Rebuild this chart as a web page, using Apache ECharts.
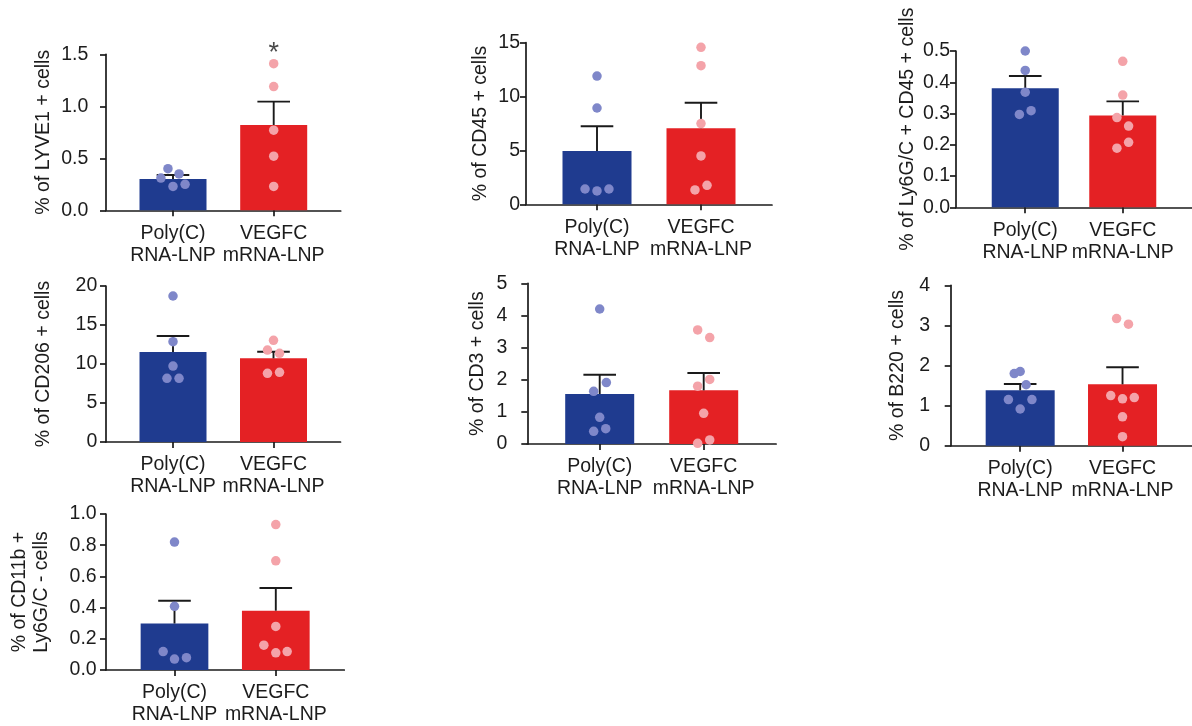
<!DOCTYPE html>
<html>
<head>
<meta charset="utf-8">
<script src="https://cdn.jsdelivr.net/npm/echarts@6/dist/echarts.min.js"></script>
<style>
  html, body { margin: 0; padding: 0; background: #fff; }
  #chart { width: 1192px; height: 726px; }
</style>
</head>
<body>
<div id="chart"></div>
<script>
// ---------------- DATA ----------------
const categories = ['Poly(C)\nRNA-LNP', 'VEGFC\nmRNA-LNP'];

// LYVE1
const lyve1Title = '% of LYVE1 + cells';
const lyve1Ticks = [0, 0.5, 1.0, 1.5];
const lyve1Mean = [0.30, 0.82];
const lyve1Sem = [0.04, 0.225];
const lyve1Poly = [0.31, 0.40, 0.35, 0.23, 0.25];
const lyve1PolyJit = [-0.12, -0.05, 0.06, 0, 0.12];
const lyve1Vegfc = [1.41, 1.19, 0.77, 0.52, 0.23];
const lyve1VegfcJit = [0, 0, 0, 0, 0];
const lyve1Sig = ['', '*'];

// CD45
const cd45Title = '% of CD45 + cells';
const cd45Ticks = [0, 5, 10, 15];
const cd45Mean = [4.95, 7.05];
const cd45Sem = [2.29, 2.38];
const cd45Poly = [11.9, 8.94, 1.42, 1.24, 1.42];
const cd45PolyJit = [0, 0, -0.115, 0, 0.115];
const cd45Vegfc = [14.57, 12.87, 7.49, 4.49, 1.76, 1.33];
const cd45VegfcJit = [0, 0, 0, 0, 0.058, -0.058];

// Ly6G/C + CD45
const ly6gTitle = '% of Ly6G/C + CD45 + cells';
const ly6gTicks = [0, 0.1, 0.2, 0.3, 0.4, 0.5];
const ly6gMean = [0.381, 0.294];
const ly6gSem = [0.039, 0.045];
const ly6gPoly = [0.50, 0.438, 0.368, 0.297, 0.309];
const ly6gPolyJit = [0, 0, 0, -0.06, 0.06];
const ly6gVegfc = [0.467, 0.359, 0.287, 0.26, 0.208, 0.189];
const ly6gVegfcJit = [0, 0, -0.06, 0.06, 0.06, -0.06];

// CD206
const cd206Title = '% of CD206 + cells';
const cd206Ticks = [0, 5, 10, 15, 20];
const cd206Mean = [11.54, 10.73];
const cd206Sem = [2.05, 0.85];
const cd206Poly = [18.72, 12.86, 9.74, 8.16, 8.16];
const cd206PolyJit = [0, 0, 0, -0.06, 0.06];
const cd206Vegfc = [13.03, 11.79, 11.37, 8.8, 8.93];
const cd206VegfcJit = [0, -0.06, 0.06, -0.06, 0.06];

// CD3
const cd3Title = '% of CD3 + cells';
const cd3Ticks = [0, 1, 2, 3, 4, 5];
const cd3Mean = [1.556, 1.67];
const cd3Sem = [0.60, 0.54];
const cd3Poly = [4.20, 1.91, 1.64, 0.83, 0.395, 0.477];
const cd3PolyJit = [0, 0.064, -0.058, 0, -0.058, 0.058];
const cd3Vegfc = [3.55, 3.31, 2.01, 1.80, 0.955, 0.125, 0.02];
const cd3VegfcJit = [-0.058, 0.058, 0.058, -0.058, 0, 0.058, -0.058];

// B220
const b220Title = '% of B220 + cells';
const b220Ticks = [0, 1, 2, 3, 4];
const b220Mean = [1.38, 1.53];
const b220Sem = [0.16, 0.425];
const b220Poly = [1.80, 1.85, 1.52, 1.15, 1.15, 0.915];
const b220PolyJit = [-0.058, 0, 0.058, -0.115, 0.115, 0];
const b220Vegfc = [3.17, 3.03, 1.25, 1.17, 1.20, 0.72, 0.225];
const b220VegfcJit = [-0.058, 0.058, -0.115, 0, 0.115, 0, 0];

// CD11b + Ly6G/C -
const cd11bTitle = '% of CD11b +\nLy6G/C - cells';
const cd11bTicks = [0, 0.2, 0.4, 0.6, 0.8, 1.0];
const cd11bMean = [0.298, 0.38];
const cd11bSem = [0.146, 0.146];
const cd11bPoly = [0.82, 0.408, 0.118, 0.07, 0.079];
const cd11bPolyJit = [0, 0, -0.112, 0, 0.118];
const cd11bVegfc = [0.932, 0.70, 0.279, 0.159, 0.11, 0.118];
const cd11bVegfcJit = [0, 0, 0, -0.118, 0, 0.112];

// ---------------- LAYOUT / STYLE ----------------
const FONT = '"Liberation Sans", Arial, Helvetica, sans-serif';
const TXT = '#1c1c1c';
const AXC = '#1a1a1a';
const barColors = ['#1f3b8f', '#e42124'];
const dotColors = ['#7f87c9', '#f4a3a9'];

const panels = [
  { title: lyve1Title, ticks: lyve1Ticks, mean: lyve1Mean, sem: lyve1Sem, poly: lyve1Poly, polyJit: lyve1PolyJit, vegfc: lyve1Vegfc, vegfcJit: lyve1VegfcJit, sig: lyve1Sig, dec: 1,
    lay: { left: 106, top: 54.3, height: 156, pad: 67, spacing: 100.7, barW: 67, labelMargin: 17.7, nameGap: 51 } },
  { title: cd45Title, ticks: cd45Ticks, mean: cd45Mean, sem: cd45Sem, poly: cd45Poly, polyJit: cd45PolyJit, vegfc: cd45Vegfc, vegfcJit: cd45VegfcJit, dec: 0,
    lay: { left: 526, top: 42.7, height: 161.6, pad: 71, spacing: 104, barW: 69, labelMargin: 6, nameGap: 34 } },
  { title: ly6gTitle, ticks: ly6gTicks, mean: ly6gMean, sem: ly6gSem, poly: ly6gPoly, polyJit: ly6gPolyJit, vegfc: ly6gVegfc, vegfcJit: ly6gVegfcJit, dec: 1,
    lay: { left: 956, top: 51, height: 156.3, pad: 71, spacing: 100, barW: 67, labelMargin: 6, nameGap: 37.5 } },
  { title: cd206Title, ticks: cd206Ticks, mean: cd206Mean, sem: cd206Sem, poly: cd206Poly, polyJit: cd206PolyJit, vegfc: cd206Vegfc, vegfcJit: cd206VegfcJit, dec: 0,
    lay: { left: 106, top: 286, height: 156, pad: 67, spacing: 100.5, barW: 67, labelMargin: 8.7, nameGap: 51 } },
  { title: cd3Title, ticks: cd3Ticks, mean: cd3Mean, sem: cd3Sem, poly: cd3Poly, polyJit: cd3PolyJit, vegfc: cd3Vegfc, vegfcJit: cd3VegfcJit, dec: 0,
    lay: { left: 527.3, top: 283.3, height: 160.7, pad: 72.4, spacing: 104, barW: 69, labelMargin: 20, nameGap: 38.5 } },
  { title: b220Title, ticks: b220Ticks, mean: b220Mean, sem: b220Sem, poly: b220Poly, polyJit: b220PolyJit, vegfc: b220Vegfc, vegfcJit: b220VegfcJit, dec: 0,
    lay: { left: 950.7, top: 285.3, height: 160.4, pad: 70.6, spacing: 104, barW: 69, labelMargin: 20.7, nameGap: 42 } },
  { title: cd11bTitle, ticks: cd11bTicks, mean: cd11bMean, sem: cd11bSem, poly: cd11bPoly, polyJit: cd11bPolyJit, vegfc: cd11bVegfc, vegfcJit: cd11bVegfcJit, dec: 1,
    lay: { left: 106, top: 514, height: 157.7, pad: 68.5, spacing: 101.3, barW: 67.7, labelMargin: 9.3, nameGap: 53 } }
];

const grid = [], xAxis = [], yAxis = [], series = [];

panels.forEach((p, i) => {
  const L = p.lay;
  const ext = L.pad / L.spacing;
  grid.push({ left: L.left, top: L.top, height: L.height, width: 2 * L.pad + L.spacing, containLabel: false });
  xAxis.push({
    type: 'value', gridIndex: i, min: -ext, max: 1 + ext,
    splitLine: { show: false },
    axisLine: { show: true, onZero: false, lineStyle: { color: AXC, width: 1.7 } },
    axisTick: { show: true, customValues: [0, 1], length: 6, inside: false, lineStyle: { color: AXC, width: 1.7 } },
    axisLabel: {
      customValues: [0, 1], margin: 12,
      formatter: v => categories[Math.round(v)],
      color: TXT, fontFamily: FONT, fontSize: 19.5, lineHeight: 22, align: 'center'
    }
  });
  const t = p.ticks;
  yAxis.push({
    type: 'value', gridIndex: i, min: t[0], max: t[t.length - 1], interval: t[1] - t[0],
    splitLine: { show: false },
    axisLine: { show: true, onZero: false, lineStyle: { color: AXC, width: 1.7 } },
    axisTick: { show: true, length: 6, inside: false, lineStyle: { color: AXC, width: 1.7 } },
    axisLabel: { margin: L.labelMargin, color: TXT, fontFamily: FONT, fontSize: 19.5, formatter: v => v.toFixed(p.dec) },
    name: p.title, nameLocation: 'middle', nameGap: L.nameGap, nameRotate: 90,
    nameTextStyle: { color: TXT, fontFamily: FONT, fontSize: 19.5, lineHeight: 22 }
  });

  // bars
  series.push({
    type: 'bar', xAxisIndex: i, yAxisIndex: i, barWidth: L.barW, z: 2,
    data: p.mean.map((m, k) => ({ value: [k, m], itemStyle: { color: barColors[k] } })),
    animation: false
  });
  // error bars (mean + SEM, upper only)
  series.push({
    type: 'custom', xAxisIndex: i, yAxisIndex: i, z: 3,
    data: p.mean.map((m, k) => [k, m, p.sem[k]]),
    encode: { x: 0, y: 1 },
    renderItem: (params, api) => {
      const x = api.value(0), m = api.value(1), s = api.value(2);
      const base = api.coord([x, m]);
      const top = api.coord([x, m + s]);
      const st = { stroke: AXC, lineWidth: 1.9 };
      return { type: 'group', children: [
        { type: 'line', shape: { x1: base[0], y1: base[1], x2: top[0], y2: top[1] }, style: st },
        { type: 'line', shape: { x1: top[0] - 16.3, y1: top[1], x2: top[0] + 16.3, y2: top[1] }, style: st }
      ] };
    },
    animation: false
  });
  // individual points
  series.push({
    type: 'scatter', xAxisIndex: i, yAxisIndex: i, z: 4, symbolSize: 9.5,
    itemStyle: { color: dotColors[0], opacity: 1 },
    data: p.poly.map((v, k) => [0 + p.polyJit[k], v]), animation: false
  });
  series.push({
    type: 'scatter', xAxisIndex: i, yAxisIndex: i, z: 4, symbolSize: 9.5,
    itemStyle: { color: dotColors[1], opacity: 1 },
    data: p.vegfc.map((v, k) => [1 + p.vegfcJit[k], v]), animation: false
  });
  // significance marks
  if (p.sig) {
    series.push({
      type: 'scatter', xAxisIndex: i, yAxisIndex: i, z: 5, symbolSize: 0,
      data: p.sig.map((s, k) => ({ value: [k, t[t.length - 1]], label: { show: s !== '', formatter: s } })),
      label: { position: 'inside', offset: [0, -1], color: TXT, fontFamily: FONT, fontSize: 27 },
      animation: false
    });
  }
});

const chart = echarts.init(document.getElementById('chart'), null, { renderer: 'canvas' });
chart.setOption({ animation: false, backgroundColor: '#ffffff', grid, xAxis, yAxis, series });
</script>
</body>
</html>
